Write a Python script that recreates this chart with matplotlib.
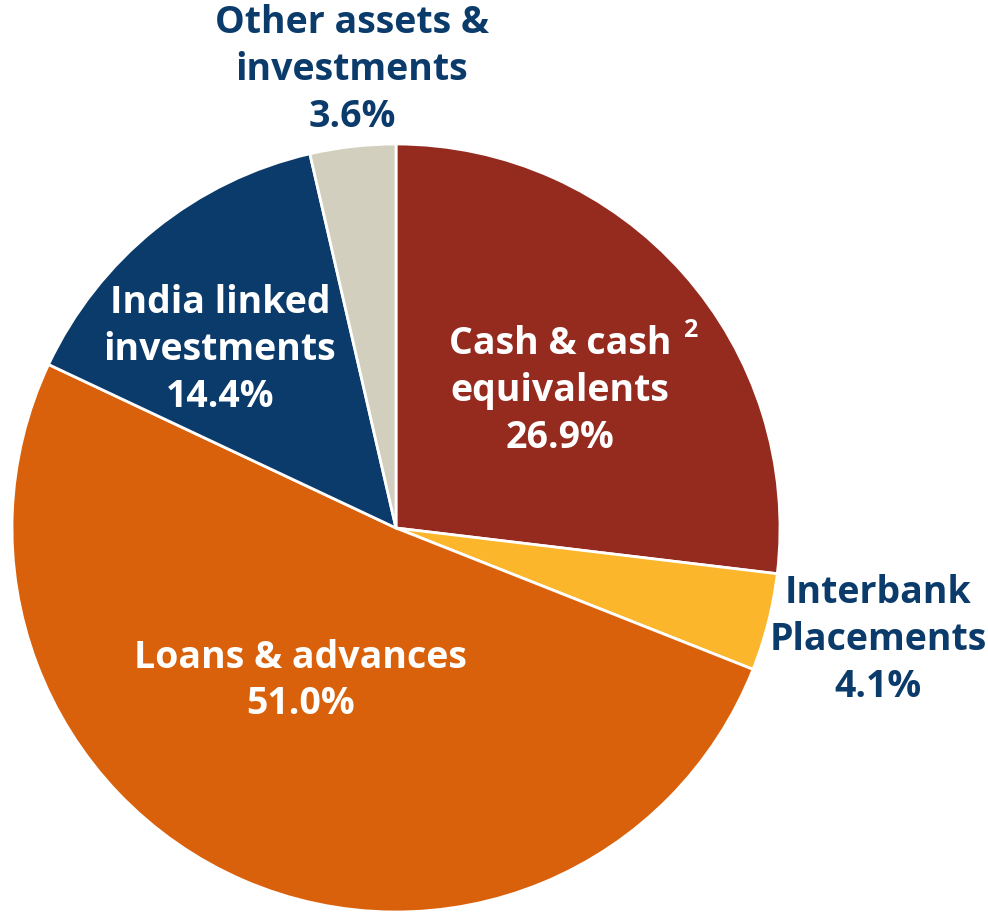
import matplotlib.pyplot as plt

# Asset mix, clockwise from 12 o'clock
labels = ["Cash & cash\nequivalents", "Interbank\nPlacements", "Loans & advances",
          "India linked\ninvestments", "Other assets &\ninvestments"]
shares = [26.9, 4.1, 51.0, 14.4, 3.6]
colors = ["#952A1F", "#FBB62B", "#DA610B", "#0B3B6B", "#D2CFBE"]

navy = "#0B3B6B"
R = 384.0  # pie radius in px

fig = plt.figure(figsize=(9.88, 9.13), dpi=100)
ax = fig.add_axes([0, 0, 1, 1])

ax.pie(shares, colors=colors, startangle=90, counterclock=False, radius=1,
       wedgeprops={"edgecolor": "white", "linewidth": 2})


def px(x, y):
    # reference pixel position -> data coords
    return (x - 396) / R, (528 - y) / R


ax.set_xlim(-396 / R, (988 - 396) / R)
ax.set_ylim(-(913 - 528) / R, 528 / R)
ax.set_aspect("auto")
ax.axis("off")

font = dict(family=["Open Sans", "DejaVu Sans"], fontweight="bold",
            fontsize=27, ha="center", va="center", linespacing=1.3)

# label position (px) and colour for each slice
label_pos = [(560, 391), (878, 640), (300, 681), (220, 350), (352, 70)]
label_col = ["white", navy, "white", "white", navy]

for lab, val, pos, col in zip(labels, shares, label_pos, label_col):
    ax.text(*px(*pos), f"{lab}\n{val:.1f}%", color=col, **font)

# footnote marker on the cash slice
ax.text(*px(690, 330), "2", color="white", fontsize=18, fontweight="bold",
        family=["Open Sans", "DejaVu Sans"], ha="center", va="center")

fig.savefig("out.png", dpi=100)
plt.close(fig)
